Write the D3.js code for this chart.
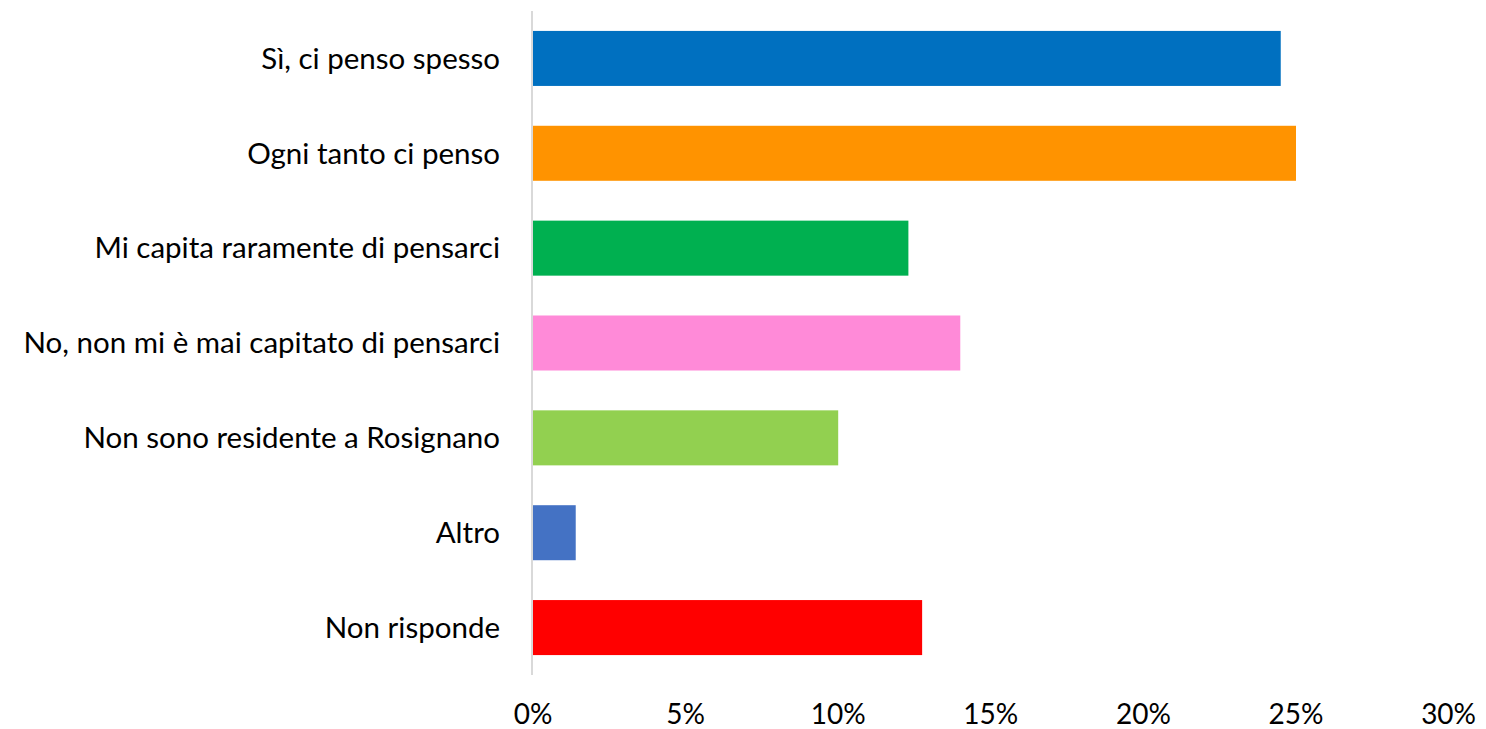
<!DOCTYPE html>
<html><head><meta charset="utf-8">
<script src="https://cdn.jsdelivr.net/npm/d3@7"></script>
<style>body{margin:0;background:#fff}svg{display:block}text{font-family:Lato,"Open Sans",sans-serif;fill:#000}</style>
</head><body><svg id="c" width="1486" height="729"></svg>
<script>
const categories = ["Sì, ci penso spesso","Ogni tanto ci penso","Mi capita raramente di pensarci","No, non mi è mai capitato di pensarci","Non sono residente a Rosignano","Altro","Non risponde"];
const values = [24.5, 25.0, 12.3, 14.0, 10.0, 1.4, 12.75];
const colors = ["#0070C0","#FF9300","#00B050","#FF8AD8","#92D050","#4472C4","#FF0000"];
const ticks = [0,5,10,15,20,25,30];

const svg = d3.select("#c");
const x = d3.scaleLinear().domain([0,30]).range([533,1448.6]);
const y = d3.scaleBand().domain(categories).range([11,675]).paddingInner(0.42).paddingOuter(0.21);

svg.selectAll("rect.bar").data(categories).join("rect").attr("class","bar")
  .attr("x", x(0)).attr("y", d=>y(d)).attr("height", y.bandwidth())
  .attr("width", (d,i)=>x(values[i])-x(0)).attr("fill",(d,i)=>colors[i]);

svg.append("line").attr("x1",532).attr("x2",532).attr("y1",11).attr("y2",675)
  .attr("stroke","#d9d9d9").attr("stroke-width",2);

svg.selectAll("text.cat").data(categories).join("text").attr("class","cat")
  .attr("x",500).attr("y",d=>y(d)+y.bandwidth()/2).attr("dy","0.35em")
  .attr("text-anchor","end").style("font-size","29.5px").text(d=>d);

svg.selectAll("text.tick").data(ticks).join("text").attr("class","tick")
  .attr("x",d=>x(d)).attr("y",724).attr("text-anchor","middle")
  .style("font-size","28px").text(d=>d+"%");
</script></body></html>
